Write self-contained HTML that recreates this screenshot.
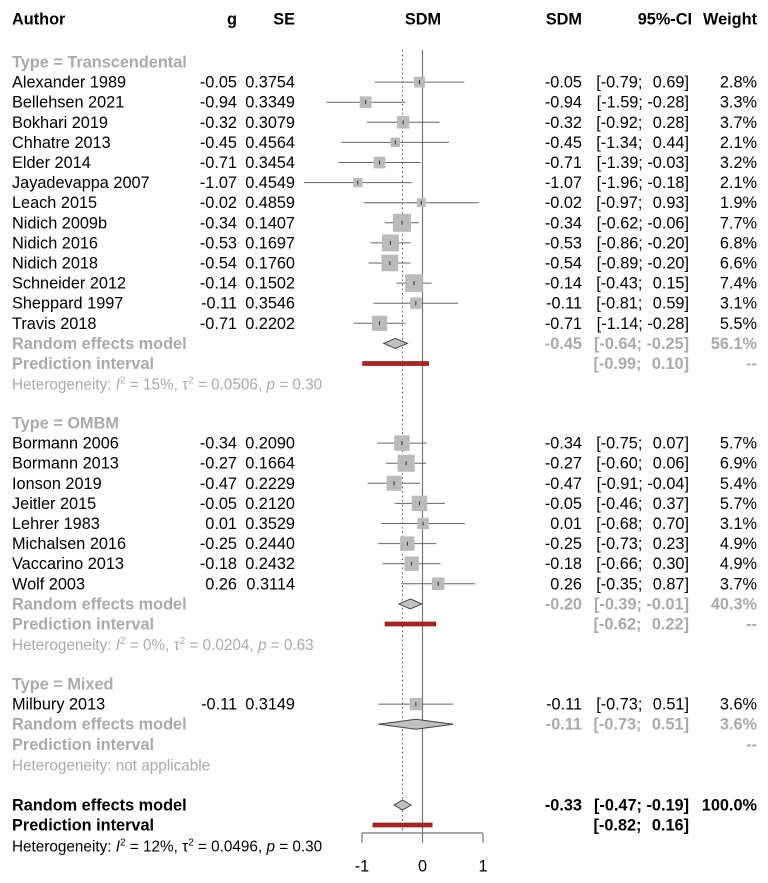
<!DOCTYPE html>
<html><head><meta charset="utf-8"><style>
body{margin:0;background:#fff}
svg{display:block;font-family:"Liberation Sans",Arial,sans-serif}
text{font-size:16.3px;fill:#000;white-space:pre}
.g{fill:#aaa}
.b{font-weight:bold}
.s{font-size:15.3px}
</style></head><body>
<svg id="c" width="768" height="883" viewBox="0 0 768 883"></svg>
<script>
const authors=[["Alexander 1989","Bellehsen 2021","Bokhari 2019","Chhatre 2013","Elder 2014","Jayadevappa 2007","Leach 2015","Nidich 2009b","Nidich 2016","Nidich 2018","Schneider 2012","Sheppard 1997","Travis 2018"],["Bormann 2006","Bormann 2013","Ionson 2019","Jeitler 2015","Lehrer 1983","Michalsen 2016","Vaccarino 2013","Wolf 2003"],["Milbury 2013"]];
const gVals=[[-0.05,-0.94,-0.32,-0.45,-0.71,-1.07,-0.02,-0.34,-0.53,-0.54,-0.14,-0.11,-0.71],[-0.34,-0.27,-0.47,-0.05,0.01,-0.25,-0.18,0.26],[-0.11]];
const seVals=[["0.3754","0.3349","0.3079","0.4564","0.3454","0.4549","0.4859","0.1407","0.1697","0.1760","0.1502","0.3546","0.2202"],["0.2090","0.1664","0.2229","0.2120","0.3529","0.2440","0.2432","0.3114"],["0.3149"]];
const lowVals=[[-0.79,-1.59,-0.92,-1.34,-1.39,-1.96,-0.97,-0.62,-0.86,-0.89,-0.43,-0.81,-1.14],[-0.75,-0.60,-0.91,-0.46,-0.68,-0.73,-0.66,-0.35],[-0.73]];
const highVals=[[0.69,-0.28,0.28,0.44,-0.03,-0.18,0.93,-0.06,-0.20,-0.20,0.15,0.59,-0.28],[0.07,0.06,-0.04,0.37,0.70,0.23,0.30,0.87],[0.51]];
const weights=[[2.8,3.3,3.7,2.1,3.2,2.1,1.9,7.7,6.8,6.6,7.4,3.1,5.5],[5.7,6.9,5.4,5.7,3.1,4.9,4.9,3.7],[3.6]];
const groupNames=["Type = Transcendental","Type = OMBM","Type = Mixed"];
const reEst=[-0.45,-0.20,-0.11], reLow=[-0.64,-0.39,-0.73], reHigh=[-0.25,-0.01,0.51], reW=["56.1%","40.3%","3.6%"];
const piLow=[-0.99,-0.62,null], piHigh=[0.10,0.22,null];
const hetText=[["15%","0.0506","0.30"],["0%","0.0204","0.63"],null];
const overall=[-0.33,-0.47,-0.19], overallPI=[-0.82,0.16];
const ticks=[-1,0,1];

const svg=document.getElementById('c');const NS='http://www.w3.org/2000/svg';
const X=v=>422.5+v*60.5;
function el(tag,a,txt){const e=document.createElementNS(NS,tag);for(const k in a)e.setAttribute(k,a[k]);if(txt!==undefined)e.textContent=txt;svg.appendChild(e);return e;}
function T(x,y,s,cls,anchor,name){const e=el('text',{x:x,y:y+5.5,class:cls||'','text-anchor':anchor||'start'},s);

return e;}
const f2=v=>{let s=v.toFixed(2);if(s==="-0.00")s="0.00";return s;};
const f2s=v=>(v<0?"":" \u200A")+f2(v);
const CIR=689;
// header
T(12,19,"Author","b","start","author-header");T(237,19,"g","b","end","g-header");T(295,19,"SE","b","end","se-header");
T(423,19,"SDM","b","middle","sdm-plot-header");T(582,19,"SDM","b","end","sdm-header");T(692,19,"95%-CI","b","end","ci-header");T(757,19,"Weight","b","end","weight-header");
// reference lines
let l=el('line',{x1:X(0),x2:X(0),y1:50,y2:833,stroke:'#777','stroke-width':1.2});
l=el('line',{x1:X(overall[0]),x2:X(overall[0]),y1:50,y2:833,stroke:'#555','stroke-width':1,'stroke-dasharray':'1.5,3'});
function diamond(y,e,lo,hi,name){const p=el('polygon',{points:`${X(lo)},${y} ${X(e)},${y-5} ${X(hi)},${y} ${X(e)},${y+5}`,fill:'#c0c0c0',stroke:'#444','stroke-width':1});}
function pi(y,lo,hi,name){const r=el('rect',{x:X(lo),y:y-2,width:X(hi)-X(lo),height:4,fill:'#b22222',stroke:'#7a1010','stroke-width':0.6});}
const groupStart=[62,423,684];
for(let gi=0;gi<3;gi++){
 let y=groupStart[gi];
 T(12,y,groupNames[gi],"g b","start","subgroup-title");y+=20.1;
 for(let i=0;i<authors[gi].length;i++){
  const w=weights[gi][i],g=gVals[gi][i];
  T(12,y,authors[gi][i],"","start","study-name");
  T(237,y,f2(g),"","end","g-value");T(295,y,seVals[gi][i],"","end","se-value");
  T(582,y,f2(g),"","end","sdm-value");
  T(CIR,y,"["+f2s(lowVals[gi][i])+"; "+f2s(highVals[gi][i])+"]","","end","ci-value");
  T(757,y,w.toFixed(1)+"%","","end","weight-value");
  const ln=el('line',{x1:X(lowVals[gi][i]),x2:X(highVals[gi][i]),y1:y,y2:y,stroke:'#666','stroke-width':1});
  
  const s=6.5*Math.sqrt(w);
  const sq=el('rect',{x:X(g)-s/2,y:y-s/2,width:s,height:s,fill:'#bbb'});
  
  const d=el('line',{x1:X(g),x2:X(g),y1:y-2,y2:y+2,stroke:'#333','stroke-width':1});
  y+=20.1;
 }
 T(12,y,"Random effects model","g b","start","subgroup-re-label");
 T(582,y,f2(reEst[gi]),"g b","end","subgroup-re-sdm");
 T(CIR,y,"["+f2s(reLow[gi])+"; "+f2s(reHigh[gi])+"]","g b","end","subgroup-re-ci");
 T(757,y,reW[gi],"g b","end","subgroup-re-weight");
 diamond(y,reEst[gi],reLow[gi],reHigh[gi],'subgroup-diamond');
 y+=20.1;
 T(12,y,"Prediction interval","g b","start","subgroup-pi-label");
 if(piLow[gi]!==null){T(CIR,y,"["+f2s(piLow[gi])+"; "+f2s(piHigh[gi])+"]","g b","end","subgroup-pi-ci");pi(y,piLow[gi],piHigh[gi],'subgroup-prediction-interval');}
 T(757,y,"--","g b","end","subgroup-pi-weight");
 y+=20.6;
 const h=hetText[gi];
 if(h){const t=T(12,y,"","g s","start","heterogeneity-text");t.innerHTML=`Heterogeneity: <tspan font-style="italic">I</tspan><tspan dy="-6" font-size="10">2</tspan><tspan dy="6"> = ${h[0]}, τ</tspan><tspan dy="-6" font-size="10">2</tspan><tspan dy="6"> = ${h[1]}, </tspan><tspan font-style="italic">p</tspan> = ${h[2]}`;}
 else T(12,y,"Heterogeneity: not applicable","g s","start","heterogeneity-text");
}
// overall
T(12,805,"Random effects model","b","start","overall-re-label");
T(582,805,f2(overall[0]),"b","end","overall-sdm");
T(CIR,805,"["+f2s(overall[1])+"; "+f2s(overall[2])+"]","b","end","overall-ci");
T(757,805,"100.0%","b","end","overall-weight");
diamond(805,overall[0],overall[1],overall[2],'overall-diamond');
T(12,825,"Prediction interval","b","start","overall-pi-label");
T(CIR,825,"["+f2s(overallPI[0])+"; "+f2s(overallPI[1])+"]","b","end","overall-pi-ci");
pi(825,overallPI[0],overallPI[1],'overall-prediction-interval');
{const t=T(12,846,"","s","start","overall-heterogeneity");t.innerHTML=`Heterogeneity: <tspan font-style="italic">I</tspan><tspan dy="-6" font-size="10">2</tspan><tspan dy="6"> = 12%, τ</tspan><tspan dy="-6" font-size="10">2</tspan><tspan dy="6"> = 0.0496, </tspan><tspan font-style="italic">p</tspan> = 0.30`;}
// axis
l=el('line',{x1:X(ticks[0]),x2:X(ticks[ticks.length-1]),y1:833,y2:833,stroke:'#777','stroke-width':1.2});
for(const t of ticks){const k=el('line',{x1:X(t),x2:X(t),y1:833,y2:843,stroke:'#777','stroke-width':1.2});
 T(X(t),866,String(t),"","middle","x-tick-label");}
</script>
</body></html>
